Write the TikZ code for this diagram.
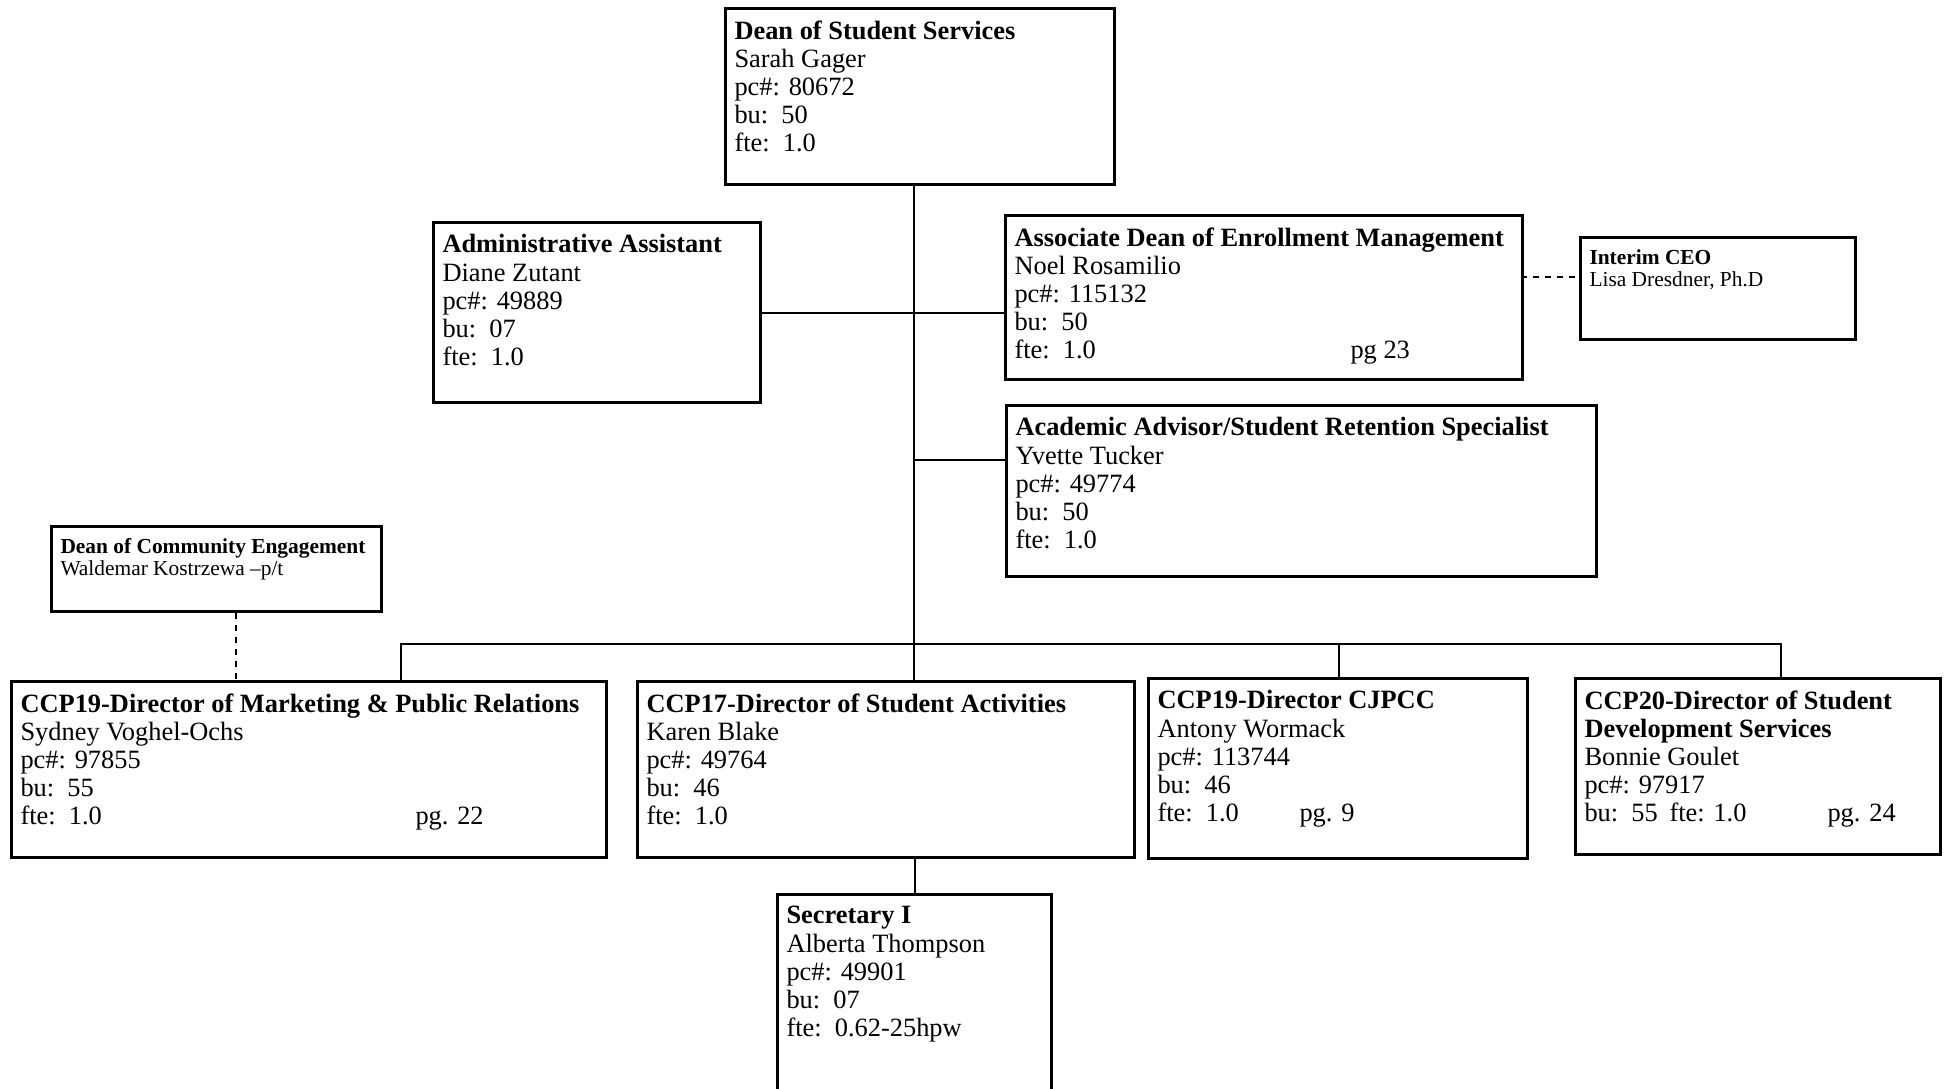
\documentclass[tikz,border=0pt]{standalone}
\usepackage{fontspec}
\setmainfont{Liberation Serif}
\newcommand\orgbody[3]{\parbox[t][#2][t]{#1}{\raggedright #3}}
\begin{document}
\begin{tikzpicture}[x=0.5pt,y=-0.5pt,
  orgbox/.style={draw, line width=1.5pt, anchor=north west, inner xsep=4.5pt, inner ysep=6pt, font=\fontsize{13.2}{14.1}\selectfont},
  smallbox/.style={orgbox, font=\fontsize{10.7}{11.2}\selectfont},
  link/.style={line width=1pt},
  dlink/.style={line width=1pt, dash pattern=on 3pt off 3pt}]
\clip (0,0) rectangle (1948,1088);

\node[orgbox] (dean) at (724,7) {\orgbody{185.5pt}{76pt}{\mbox{\textbf{Dean of Student Services}}\\Sarah Gager\\pc\#: 80672\\bu:\ \ 50\\fte:\ \ 1.0}};

\node[orgbox] (admin) at (432,221) {\orgbody{154.5pt}{78pt}{\mbox{\textbf{Administrative Assistant}}\\Diane Zutant\\pc\#: 49889\\bu:\ \ 07\\fte:\ \ 1.0}};

\node[orgbox] (assoc) at (1004,214) {\orgbody{249.5pt}{70pt}{\mbox{\textbf{Associate Dean of Enrollment Management}}\\Noel Rosamilio\\pc\#: 115132\\bu:\ \ 50\\\makebox[168pt][l]{fte:\ \ 1.0}pg 23}};

\node[smallbox] (ceo) at (1579,236) {\orgbody{128.5pt}{39pt}{\mbox{\textbf{Interim CEO}}\\Lisa Dresdner, Ph.D}};

\node[orgbox] (acad) at (1005,404) {\orgbody{286pt}{73.5pt}{\mbox{\textbf{Academic Advisor/Student Retention Specialist}}\\Yvette Tucker\\pc\#: 49774\\bu:\ \ 50\\fte:\ \ 1.0}};

\node[smallbox] (comm) at (50,525) {\orgbody{156pt}{30.5pt}{\mbox{\textbf{Dean of Community Engagement}}\\Waldemar Kostrzewa –p/t}};

\node[orgbox] (mkt) at (10,680) {\orgbody{288.5pt}{76pt}{\mbox{\textbf{CCP19-Director of Marketing \& Public Relations}}\\Sydney Voghel-Ochs\\pc\#: 97855\\bu:\ \ 55\\\makebox[197.5pt][l]{fte:\ \ 1.0}pg. 22}};

\node[orgbox] (act) at (636,680) {\orgbody{239.5pt}{76pt}{\mbox{\textbf{CCP17-Director of Student Activities}}\\Karen Blake\\pc\#: 49764\\bu:\ \ 46\\fte:\ \ 1.0}};

\node[orgbox] (cjpcc) at (1147,677) {\orgbody{180.5pt}{78pt}{\mbox{\textbf{CCP19-Director CJPCC}}\\Antony Wormack\\pc\#: 113744\\bu:\ \ 46\\\makebox[71pt][l]{fte:\ \ 1.0}pg. 9}};

\node[orgbox] (sdev) at (1574,677) {\orgbody{173.5pt}{76pt}{\mbox{\textbf{CCP20-Director of Student}}\\\mbox{\textbf{Development Services}}\\Bonnie Goulet\\pc\#: 97917\\\makebox[42.5pt][l]{bu:\ \ 55}\makebox[79pt][l]{fte: 1.0}pg. 24}};

\node[orgbox] (sec) at (776,893) {\orgbody{128pt}{118pt}{\mbox{\textbf{Secretary I}}\\Alberta Thompson\\pc\#: 49901\\bu:\ \ 07\\fte:\ \ 0.62-25hpw}};

% connectors
\coordinate (bus) at (914,644);
\coordinate (acadj) at (914,460);
\coordinate (ceoj) at (1521,277);
\coordinate (commj) at (236,617);
\coordinate (busL) at (401,644);
\coordinate (busR) at (1781,644);
\coordinate (busC) at (1339,644);

\draw[link] (bus |- dean.south) -- (bus);
\draw[link] (admin.east) -- (admin.east -| assoc.west);
\draw[link] (acadj) -- (acadj -| acad.west);
\draw[dlink] (ceoj) -- (ceoj -| ceo.west);
\draw[dlink] (commj |- comm.south) -- (commj |- mkt.north);
\draw[link] (busL |- mkt.north) -- (busL) -- (busR) -- (busR |- sdev.north);
\draw[link] (bus) -- (bus |- act.north);
\draw[link] (busC) -- (busC |- cjpcc.north);
\draw[link] (sec.north |- act.south) -- (sec.north);
\end{tikzpicture}
\end{document}
